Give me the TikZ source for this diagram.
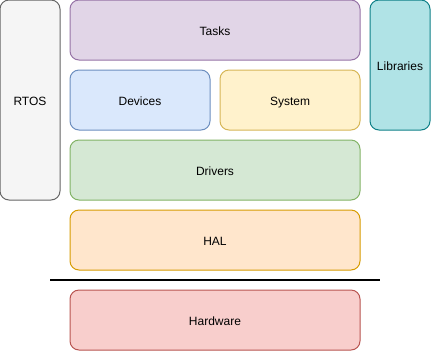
\documentclass[tikz,border=0pt]{standalone}
\usepackage{fontspec}
\setmainfont{Liberation Sans}
\usepackage{xcolor}
\usetikzlibrary{calc}

\definecolor{rtosFill}{HTML}{F5F5F5}   \definecolor{rtosLine}{HTML}{666666}
\definecolor{taskFill}{HTML}{E1D5E7}   \definecolor{taskLine}{HTML}{9673A6}
\definecolor{devFill}{HTML}{DAE8FC}    \definecolor{devLine}{HTML}{6C8EBF}
\definecolor{sysFill}{HTML}{FFF2CC}    \definecolor{sysLine}{HTML}{D6B656}
\definecolor{drvFill}{HTML}{D5E8D4}    \definecolor{drvLine}{HTML}{82B366}
\definecolor{halFill}{HTML}{FFE6CC}    \definecolor{halLine}{HTML}{D79B00}
\definecolor{hwFill}{HTML}{F8CECC}     \definecolor{hwLine}{HTML}{B85450}
\definecolor{libFill}{HTML}{B0E3E6}    \definecolor{libLine}{HTML}{0E8088}

\begin{document}
\begin{tikzpicture}[x=0.75pt, y=-0.75pt, font=\fontsize{9pt}{11pt}\selectfont,
		layer/.style={draw, rounded corners=6.75pt, line width=0.75pt, inner sep=0pt,
			text height=8pt, text depth=0pt}]
		% ---- Geometry (in px of the drawing) ----
		\def\u{0.75pt}  % one px
		\def\h{60}      % layer height
		
		% ---- Canvas ----
		\useasboundingbox (0,0) rectangle (431,351);
		
		% ---- Side blocks ----
		\node[layer, fill=rtosFill, draw=rtosLine, minimum width={60*\u}, minimum height={200*\u}] (rtos) at (30,100) {RTOS};
		\node[layer, fill=libFill, draw=libLine, minimum width={60*\u}, minimum height={130*\u}] (libs) at (400,65) {Libraries};
		
		% ---- Layer stack ----
		\node[layer, fill=taskFill, draw=taskLine, minimum width={290*\u}, minimum height={\h*\u}] (tasks) at (215,30) {Tasks};
		\node[layer, fill=devFill, draw=devLine, minimum width={140*\u}, minimum height={\h*\u}] (devices) at (140,100) {Devices};
		\node[layer, fill=sysFill, draw=sysLine, minimum width={140*\u}, minimum height={\h*\u}] (system) at (290,100) {System};
		\node[layer, fill=drvFill, draw=drvLine, minimum width={290*\u}, minimum height={\h*\u}] (drivers) at (215,170) {Drivers};
		\node[layer, fill=halFill, draw=halLine, minimum width={290*\u}, minimum height={\h*\u}] (hal) at (215,240) {HAL};
		
		% ---- Hardware boundary ----
		\coordinate (sepL) at (50,280);
		\coordinate (sepR) at (380,280);
		\draw[line width=1.5pt] (sepL) -- (sepR);
		
		\node[layer, fill=hwFill, draw=hwLine, minimum width={290*\u}, minimum height={\h*\u}] (hardware) at (215,320) {Hardware};
		
	\end{tikzpicture}
\end{document}
